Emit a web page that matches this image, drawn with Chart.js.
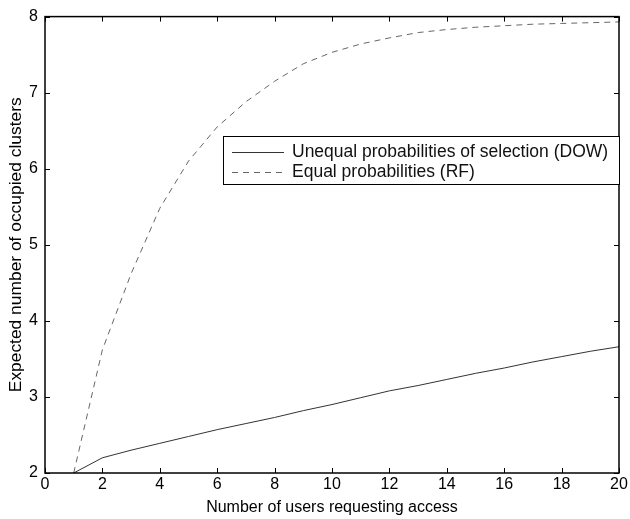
<!DOCTYPE html>
<html>
<head>
<meta charset="utf-8">
<script src="https://cdn.jsdelivr.net/npm/chart.js@4/dist/chart.umd.min.js"></script>
<style>
  html, body { margin: 0; padding: 0; background: #fff; }
  #wrap { width: 630px; height: 519px; }
</style>
</head>
<body>
<div id="wrap"><canvas id="chart" width="630" height="519"></canvas></div>
<script>
// Data
const users = [1, 2, 3, 4, 5, 6, 7, 8, 9, 10, 11, 12, 13, 14, 15, 16, 17, 18, 19, 20];
const dowValues = [2.0, 2.2, 2.3, 2.39, 2.48, 2.57, 2.65, 2.73, 2.82, 2.9, 2.99, 3.08, 3.15, 3.23, 3.31, 3.38, 3.46, 3.53, 3.6, 3.66];
const rfValues = [2.0, 3.62, 4.62, 5.48, 6.1, 6.55, 6.88, 7.15, 7.38, 7.53, 7.64, 7.72, 7.79, 7.83, 7.86, 7.88, 7.9, 7.91, 7.92, 7.93];
const seriesLabels = ["Unequal probabilities of selection (DOW)", "Equal probabilities (RF)"];
const xTicks = [0, 2, 4, 6, 8, 10, 12, 14, 16, 18, 20];
const yTicks = [2, 3, 4, 5, 6, 7, 8];

const FONT = "'Liberation Sans', Arial, Helvetica, sans-serif";

// frame with inward ticks on all sides, plus the boxed legend
const matlabFrame = {
  id: "matlabFrame",
  afterDraw(chart) {
    const ctx = chart.ctx;
    const a = chart.chartArea;
    const xs = chart.scales.x, ys = chart.scales.y;
    const len = 5;
    ctx.save();
    ctx.strokeStyle = "#000";
    ctx.lineWidth = 1;
    ctx.beginPath();
    xTicks.forEach(v => {
      const px = Math.round(xs.getPixelForValue(v)) + 0.5;
      ctx.moveTo(px, a.bottom); ctx.lineTo(px, a.bottom - len);
      ctx.moveTo(px, a.top); ctx.lineTo(px, a.top + len);
    });
    yTicks.forEach(v => {
      const py = Math.round(ys.getPixelForValue(v)) + 0.5;
      ctx.moveTo(a.left, py); ctx.lineTo(a.left + len, py);
      ctx.moveTo(a.right, py); ctx.lineTo(a.right - len, py);
    });
    ctx.stroke();
    ctx.lineWidth = 1.5;
    ctx.strokeRect(a.left, a.top, a.right - a.left, a.bottom - a.top);

    // legend
    const bx = 223, by = 136, bw = a.right - 223, bh = 48;
    ctx.fillStyle = "#fff";
    ctx.fillRect(bx, by, bw, bh);
    ctx.lineWidth = 1;
    ctx.strokeRect(bx + 0.5, by + 0.5, bw, bh);
    ctx.font = "17.5px " + FONT;
    ctx.textBaseline = "middle";
    chart.data.datasets.forEach((ds, i) => {
      const ly = by + 16 + i * 20;
      ctx.strokeStyle = ds.borderColor;
      ctx.lineWidth = 1;
      ctx.setLineDash(ds.borderDash || []);
      ctx.beginPath();
      ctx.moveTo(232, ly + 0.5); ctx.lineTo(284, ly + 0.5);
      ctx.stroke();
      ctx.setLineDash([]);
      ctx.fillStyle = "#111";
      ctx.fillText(ds.label, 292, ly);
    });
    ctx.restore();
  }
};

new Chart(document.getElementById("chart"), {
  type: "line",
  data: {
    datasets: [
      {
        label: seriesLabels[0],
        data: users.map((u, i) => ({ x: u, y: dowValues[i] })),
        borderColor: "#333",
        borderWidth: 1,
        pointRadius: 0,
        tension: 0
      },
      {
        label: seriesLabels[1],
        data: users.map((u, i) => ({ x: u, y: rfValues[i] })),
        borderColor: "#666",
        borderWidth: 1,
        borderDash: [6, 5],
        pointRadius: 0,
        tension: 0
      }
    ]
  },
  options: {
    responsive: false,
    animation: false,
    layout: { padding: { left: 0, right: 11, top: 14, bottom: 0 } },
    plugins: { legend: { display: false }, tooltip: { enabled: false } },
    scales: {
      x: {
        type: "linear",
        min: 0, max: 20,
        afterBuildTicks: s => { s.ticks = xTicks.map(v => ({ value: v })); },
        afterFit: s => { s.height = 46; },
        grid: { display: false, drawTicks: false },
        border: { display: false },
        ticks: { color: "#000", font: { family: FONT, size: 16 }, padding: 2, maxRotation: 0 },
        title: { display: true, text: "Number of users requesting access", color: "#000", font: { family: FONT, size: 16 }, padding: { top: 0, bottom: 2 } }
      },
      y: {
        min: 2, max: 8,
        afterBuildTicks: s => { s.ticks = yTicks.map(v => ({ value: v })); },
        afterFit: s => { s.width = 45; },
        grid: { display: false, drawTicks: false },
        border: { display: false },
        ticks: { color: "#000", font: { family: FONT, size: 16 }, padding: 7 },
        title: { display: true, text: "Expected number of occupied clusters", color: "#000", font: { family: FONT, size: 17.4 }, padding: { top: 6, bottom: 0 } }
      }
    }
  },
  plugins: [matlabFrame]
});
</script>
</body>
</html>
